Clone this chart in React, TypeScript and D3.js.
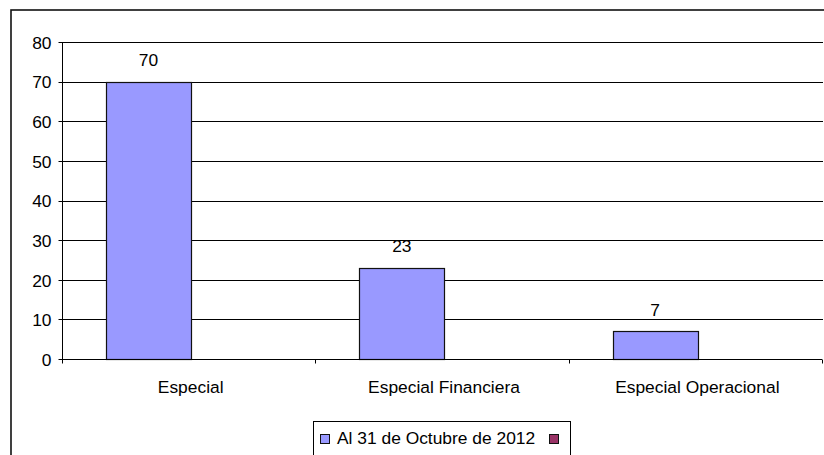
import React, { useEffect, useRef } from "react";
import * as d3 from "d3";

const categories = ["Especial", "Especial Financiera", "Especial Operacional"];
const seriesNames = ["Al 31 de Octubre de 2012", ""];
const octubre2012 = [70, 23, 7];
const secondSeries: (number | null)[] = [null, null, null];
const yTicks = [0, 10, 20, 30, 40, 50, 60, 70, 80];
const seriesColors = ["#9999FF", "#993366"];

const W = 824;
const H = 455;
const FONT = "Arial, 'Liberation Sans', sans-serif";
const FS = 17.4;

const App = () => {
  const chartRef = useRef<SVGSVGElement | null>(null);

  useEffect(() => {
    const svg = d3.select(chartRef.current);
    svg.selectAll("*").remove();

    const plot = { left: 62, right: 822, top: 42.5, bottom: 359.5 };

    const y = d3.scaleLinear().domain([0, 80]).range([plot.bottom, plot.top]);
    const yy = (v: number) => Math.round(y(v) - 0.5) + 0.5;
    const x0 = d3.scaleBand<string>().domain(categories).range([plot.left, plot.right]);
    const x1 = d3
      .scaleBand<string>()
      .domain(["s0", "s1"])
      .range([0, x0.bandwidth()])
      .paddingOuter(0.49)
      .align(0.528);

    // outer frame (cropped on right and bottom)
    svg
      .append("rect")
      .attr("x", 11)
      .attr("y", 10)
      .attr("width", W + 20)
      .attr("height", H + 20)
      .attr("fill", "white")
      .attr("stroke", "#111")
      .attr("stroke-width", 1.6);

    // gridlines
    svg
      .append("g")
      .selectAll("line")
      .data(yTicks.filter((d) => d > 0))
      .enter()
      .append("line")
      .attr("x1", plot.left)
      .attr("x2", plot.right + 1)
      .attr("y1", (d) => yy(d))
      .attr("y2", (d) => yy(d))
      .attr("stroke", "#000")
      .attr("stroke-width", 1);

    // y axis
    const yAxis = svg.append("g").attr("transform", `translate(${plot.left + 0.5},0)`);
    yAxis
      .append("line")
      .attr("y1", plot.top)
      .attr("y2", plot.bottom)
      .attr("stroke", "#000");
    yAxis
      .selectAll("line.tick")
      .data(yTicks)
      .enter()
      .append("line")
      .attr("class", "tick")
      .attr("x1", -4)
      .attr("x2", 0)
      .attr("y1", (d) => yy(d))
      .attr("y2", (d) => yy(d))
      .attr("stroke", "#000");
    yAxis
      .selectAll("text")
      .data(yTicks)
      .enter()
      .append("text")
      .attr("x", -11)
      .attr("y", (d) => y(d))
      .attr("dy", "0.36em")
      .attr("text-anchor", "end")
      .attr("font-family", FONT)
      .attr("font-size", FS)
      .text((d) => d);

    // bars
    const bars = svg.append("g");
    bars
      .selectAll("rect")
      .data(octubre2012)
      .enter()
      .append("rect")
      .attr("x", (d, i) => Math.round((x0(categories[i]) ?? 0) + (x1("s0") ?? 0)) + 0.5)
      .attr("y", (d) => yy(d))
      .attr("width", Math.round(x1.bandwidth()))
      .attr("height", (d) => yy(0) - yy(d))
      .attr("fill", seriesColors[0])
      .attr("stroke", "#111")
      .attr("stroke-width", 1.2);

    bars
      .selectAll("rect.s1")
      .data(secondSeries.filter((d) => d != null) as number[])
      .enter()
      .append("rect")
      .attr("class", "s1")
      .attr("x", (d, i) => (x0(categories[i]) ?? 0) + (x1("s1") ?? 0))
      .attr("y", (d) => y(d))
      .attr("width", x1.bandwidth())
      .attr("height", (d) => y(0) - y(d))
      .attr("fill", seriesColors[1])
      .attr("stroke", "#111");

    // value labels
    bars
      .selectAll("text")
      .data(octubre2012)
      .enter()
      .append("text")
      .attr("x", (d, i) => (x0(categories[i]) ?? 0) + (x1("s0") ?? 0) + x1.bandwidth() / 2)
      .attr("y", (d) => y(d) - 16)
      .attr("text-anchor", "middle")
      .attr("font-family", FONT)
      .attr("font-size", FS)
      .text((d) => d);

    // x axis
    const xAxis = svg.append("g").attr("transform", `translate(0,${plot.bottom})`);
    xAxis
      .append("line")
      .attr("x1", plot.left)
      .attr("x2", plot.right)
      .attr("stroke", "#000");
    const bounds = categories.map((c) => x0(c) ?? 0).concat([plot.right]);
    xAxis
      .selectAll("line.tick")
      .data(bounds)
      .enter()
      .append("line")
      .attr("class", "tick")
      .attr("x1", (d) => Math.round(d) + 0.5)
      .attr("x2", (d) => Math.round(d) + 0.5)
      .attr("y1", 0)
      .attr("y2", 4)
      .attr("stroke", "#000");
    xAxis
      .selectAll("text")
      .data(categories)
      .enter()
      .append("text")
      .attr("x", (d) => (x0(d) ?? 0) + x0.bandwidth() / 2 + 2)
      .attr("y", 33)
      .attr("text-anchor", "middle")
      .attr("font-family", FONT)
      .attr("font-size", FS)
      .text((d) => d);

    // legend
    const legend = svg.append("g");
    legend
      .append("rect")
      .attr("x", 313.5)
      .attr("y", 421.5)
      .attr("width", 257)
      .attr("height", 50)
      .attr("fill", "white")
      .attr("stroke", "#000");
    legend
      .append("rect")
      .attr("x", 320.5)
      .attr("y", 434.5)
      .attr("width", 9)
      .attr("height", 9)
      .attr("fill", seriesColors[0])
      .attr("stroke", "#111");
    legend
      .append("text")
      .attr("x", 337)
      .attr("y", 443.5)
      .attr("font-family", FONT)
      .attr("font-size", FS)
      .text(seriesNames[0]);
    legend
      .append("rect")
      .attr("x", 549.5)
      .attr("y", 434.5)
      .attr("width", 9)
      .attr("height", 9)
      .attr("fill", seriesColors[1])
      .attr("stroke", "#111");

    return () => {
      svg.selectAll("*").remove();
    };
  }, []);

  return (
    <div>
      <svg
        ref={chartRef}
        width={W}
        height={H}
        style={{ position: "absolute", left: 0, top: 0, background: "white" }}
      />
    </div>
  );
};

export default App;
